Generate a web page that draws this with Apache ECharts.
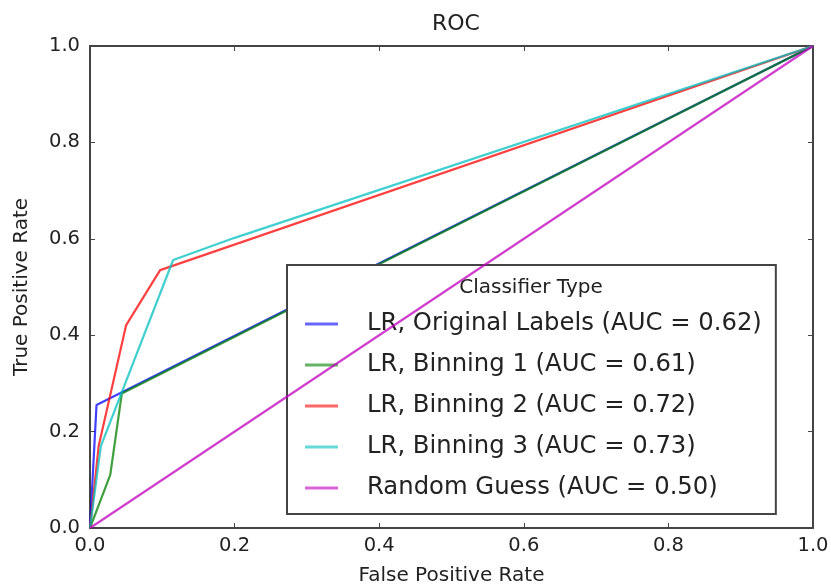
<!DOCTYPE html>
<html>
<head>
<meta charset="utf-8">
<script src="https://cdn.jsdelivr.net/npm/echarts@6/dist/echarts.min.js"></script>
<style>html,body{margin:0;padding:0;background:#fff}#c{width:831px;height:588px}</style>
</head>
<body>
<div id="c"></div>
<script>
// ---- data ----
const seriesNames = [
  'LR, Original Labels (AUC = 0.62)',
  'LR, Binning 1 (AUC = 0.61)',
  'LR, Binning 2 (AUC = 0.72)',
  'LR, Binning 3 (AUC = 0.73)',
  'Random Guess (AUC = 0.50)'
];
const fprOrig = [0, 0.009, 1];
const tprOrig = [0, 0.255, 1];
const fprBin1 = [0, 0.028, 0.044, 1];
const tprBin1 = [0, 0.11, 0.279, 1];
const fprBin2 = [0, 0.012, 0.05, 0.097, 1];
const tprBin2 = [0, 0.17, 0.421, 0.535, 1];
const fprBin3 = [0, 0.015, 0.115, 0.2, 1];
const tprBin3 = [0, 0.17, 0.556, 0.602, 1];
const fprRand = [0, 1];
const tprRand = [0, 1];
const axisTicks = [0, 0.2, 0.4, 0.6, 0.8, 1.0];
const titleText = 'ROC';
const legendTitle = 'Classifier Type';
const xName = 'False Positive Rate';
const yName = 'True Positive Rate';

const colors = ['#0000ff', '#008000', '#ff0000', '#00bfbf', '#bf00bf'];
const fprs = [fprOrig, fprBin1, fprBin2, fprBin3, fprRand];
const tprs = [tprOrig, tprBin1, tprBin2, tprBin3, tprRand];

const FONT = 'DejaVu Sans';
const TXT = '#222';
const LINE = '#444';

function pairs(xs, ys) { return xs.map((x, i) => [x, ys[i]]); }

const chart = echarts.init(document.getElementById('c'), null, {renderer: 'canvas'});

const baseAxis = {
  type: 'value', min: 0, max: 1, interval: 0.2,
  axisLine: {show: true, onZero: false, lineStyle: {color: LINE, width: 2}},
  axisTick: {show: true, inside: true, length: 5, lineStyle: {color: LINE, width: 1}},
  splitLine: {show: false}
};

const option = {
  animation: false,
  backgroundColor: '#fff',
  color: colors,
  title: {
    text: titleText, left: 451, top: 8, textAlign: 'center',
    textStyle: {fontFamily: FONT, fontSize: 22, fontWeight: 'normal', color: TXT}
  },
  grid: {left: 90, top: 46, right: 18, bottom: 60, containLabel: false, outerBoundsMode: 'none'},
  xAxis: [
    Object.assign({}, baseAxis, {
      position: 'bottom',
      name: xName, nameLocation: 'middle', nameGap: 38,
      nameTextStyle: {fontFamily: FONT, fontSize: 20, color: TXT},
      axisLabel: {show: true, fontFamily: FONT, fontSize: 19.5, color: TXT, margin: 8,
        formatter: v => v.toFixed(1)}
    }),
    Object.assign({}, baseAxis, {position: 'top', axisLabel: {show: false}})
  ],
  yAxis: [
    Object.assign({}, baseAxis, {
      position: 'left',
      name: yName, nameLocation: 'middle', nameGap: 58,
      nameTextStyle: {fontFamily: FONT, fontSize: 20, color: TXT},
      axisLabel: {show: true, fontFamily: FONT, fontSize: 19.5, color: TXT, margin: 10,
        formatter: v => v.toFixed(1)}
    }),
    Object.assign({}, baseAxis, {position: 'right', axisLabel: {show: false}})
  ],
  legend: {
    orient: 'vertical',
    left: 287, top: 265,
    padding: [47, 14, 14, 18],
    backgroundColor: '#fff',
    borderColor: LINE, borderWidth: 2,
    icon: 'rect', itemWidth: 33, itemHeight: 3, itemGap: 17,
    itemStyle: {opacity: 0.6},
    textStyle: {fontFamily: FONT, fontSize: 24.3, color: TXT, lineHeight: 24, padding: [0, 0, 0, 24]},
    data: seriesNames
  },
  graphic: [{
    type: 'text', x: 531, y: 288, z: 100,
    style: {text: legendTitle, fontFamily: FONT, fontSize: 20, fill: TXT,
      textAlign: 'center', textVerticalAlign: 'middle', font: '20px "DejaVu Sans"'}
  }],
  series: seriesNames.map((name, i) => ({
    name: name, type: 'line', xAxisIndex: 0, yAxisIndex: 0,
    data: pairs(fprs[i], tprs[i]),
    showSymbol: false, symbol: 'none',
    lineStyle: {color: colors[i], width: 2.2, opacity: 0.75},
    itemStyle: {color: colors[i]},
    z: 2 + i
  }))
};
chart.setOption(option);
</script>
</body>
</html>
